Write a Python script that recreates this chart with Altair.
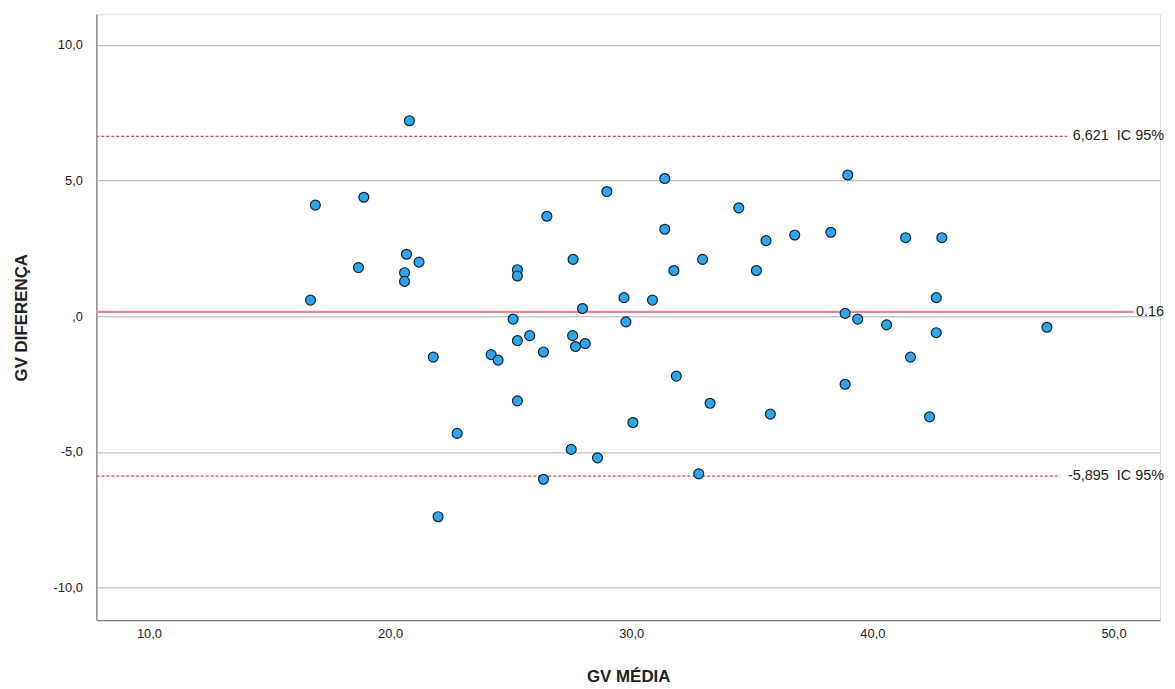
import altair as alt
import pandas as pd

# ---- data ----
gv_media = [16.70, 16.90, 18.69, 18.91, 20.80, 20.68, 21.20, 20.60, 20.60, 21.79,
            22.78, 21.99, 28.99, 26.50, 27.59, 25.28, 25.28, 29.70, 27.98, 29.78,
            25.10, 25.79, 25.28, 27.57, 28.09, 27.69, 26.36, 24.19, 24.48, 25.28,
            30.07, 27.51, 28.60, 26.36, 31.39, 34.46, 31.39, 35.59, 32.96, 31.77,
            35.19, 30.88, 31.87, 33.27, 35.77, 32.80, 38.98, 36.78, 38.28, 41.38,
            42.88, 42.65, 38.87, 39.39, 40.59, 42.65, 41.58, 38.87, 42.37, 47.24]
gv_diferenca = [0.59, 4.09, 1.79, 4.38, 7.20, 2.28, 1.99, 1.60, 1.28, -1.51,
                -4.32, -7.39, 4.59, 3.68, 2.09, 1.71, 1.48, 0.68, 0.28, -0.21,
                -0.11, -0.72, -0.90, -0.72, -1.01, -1.12, -1.32, -1.42, -1.62, -3.12,
                -3.92, -4.91, -5.22, -6.01, 5.07, 3.99, 3.20, 2.78, 2.09, 1.68,
                1.68, 0.59, -2.21, -3.21, -3.61, -5.81, 5.20, 2.99, 3.09, 2.89,
                2.89, 0.68, 0.10, -0.11, -0.32, -0.61, -1.51, -2.51, -3.71, -0.41]

ref_values = [6.621, 0.16, -5.895]
ref_labels = ["6,621\u00a0 IC 95%", "0.16", "-5,895\u00a0 IC 95%"]
ref_dashed = [True, False, True]

x_ticks = [10, 20, 30, 40, 50]
y_ticks = [-10, -5, 0, 5, 10]

# ---- layout ----
W, H = 1071, 610
X_DOMAIN = [7.82, 51.93]
Y_DOMAIN = [-11.20, 11.12]
FONT = "Liberation Sans"
LABEL_FS = 14.5
CHAR_W = 7.4

df = pd.DataFrame({"media": gv_media, "dif": gv_diferenca})
lines = pd.DataFrame({"y": ref_values, "label": ref_labels, "dashed": ref_dashed})
ends = [W + 4 - len(l) * CHAR_W - 1 for l in ref_labels]

x_scale = alt.Scale(domain=X_DOMAIN, nice=False, zero=False)
y_scale = alt.Scale(domain=Y_DOMAIN, nice=False, zero=False)

x_axis = alt.Axis(
    title="GV MÉDIA", values=x_ticks, labelExpr="datum.value + ',0'",
    grid=False, ticks=False, domainColor="#808080", domainWidth=1.3,
    labelFont=FONT, labelFontSize=13, labelColor="#222222", labelPadding=8,
    titleFont=FONT, titleFontSize=17, titleFontWeight="bold", titleColor="#222222",
    titleY=57, titleBaseline="middle",
)
y_axis = alt.Axis(
    title="GV DIFERENÇA", values=y_ticks,
    labelExpr="datum.value == 0 ? ',0' : datum.value + ',0'",
    grid=True, gridColor="#bfbfbf", gridWidth=1.2, ticks=False,
    domainColor="#808080", domainWidth=1.3,
    labelFont=FONT, labelFontSize=13, labelColor="#222222", labelPadding=14,
    titleFont=FONT, titleFontSize=17, titleFontWeight="bold", titleColor="#222222",
    titleX=-75, titleY=H / 2, titleBaseline="middle", titleAlign="center",
)

points = alt.Chart(df).mark_circle(
    size=100, fill="#2ca6f0", stroke="#15202b", strokeWidth=1.2, opacity=1
).encode(
    x=alt.X("media:Q", scale=x_scale, axis=x_axis),
    y=alt.Y("dif:Q", scale=y_scale, axis=y_axis),
)

rule_layers = []
for i in range(len(ref_values)):
    sub = lines.iloc[[i]]
    if ref_dashed[i]:
        mk = alt.Chart(sub).mark_rule(color="#e0405c", strokeWidth=1.1, strokeDash=[3, 2])
    else:
        mk = alt.Chart(sub).mark_rule(color="#e8879a", strokeWidth=2.2)
    rule_layers.append(
        mk.encode(
            x=alt.value(0), x2=alt.value(float(ends[i])),
            y=alt.Y("y:Q", scale=y_scale),
        )
    )

texts = alt.Chart(lines).mark_text(
    align="right", baseline="middle", font=FONT, fontSize=LABEL_FS,
    color="#222222", dx=4
).encode(
    x=alt.value(W), y=alt.Y("y:Q", scale=y_scale), text="label:N",
)

chart = alt.layer(*rule_layers, points, texts).properties(
    width=W, height=H,
    autosize=alt.AutoSizeParams(type="none"),
    padding={"left": 89, "top": 4, "right": 7, "bottom": 67},
).configure_view(stroke=None).configure(background="white")

chart.save("out.html", embed_options={"renderer": "svg", "actions": False})
